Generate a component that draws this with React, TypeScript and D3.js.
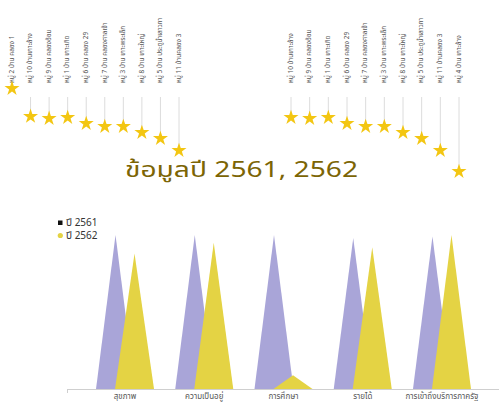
import React from "react";
import * as d3 from "d3";

const leftVillages = [
  "หมู่ 2 บ้าน คลอง 1",
  "หมู่ 10 บ้านเกาะล้าง",
  "หมู่ 9 บ้าน คลองอ้อม",
  "หมู่ 1 บ้าน เกาะเกิด",
  "หมู่ 6 บ้าน คลอง 29",
  "หมู่ 7 บ้าน คลองศาลเจ้า",
  "หมู่ 3 บ้าน เกาะพระเล็ก",
  "หมู่ 8 บ้าน เกาะใหญ่",
  "หมู่ 5 บ้าน ประตูน้ำเสาวภา",
  "หมู่ 11 บ้านคลอง 3",
];
const leftScores = [100, 76.7, 75, 75.8, 70.8, 68.3, 68.3, 63.3, 58.3, 48.3];

const rightVillages = [
  "หมู่ 10 บ้านเกาะล้าง",
  "หมู่ 9 บ้าน คลองอ้อม",
  "หมู่ 1 บ้าน เกาะเกิด",
  "หมู่ 6 บ้าน คลอง 29",
  "หมู่ 7 บ้าน คลองศาลเจ้า",
  "หมู่ 3 บ้าน เกาะพระเล็ก",
  "หมู่ 8 บ้าน เกาะใหญ่",
  "หมู่ 5 บ้าน ประตูน้ำเสาวภา",
  "หมู่ 11 บ้านคลอง 3",
  "หมู่ 4 บ้าน เกาะล้าง",
];
const rightScores = [75.8, 75, 75.8, 70.8, 68.3, 68.3, 63.3, 58.3, 48.3, 30.8];

const categories = ["สุขภาพ", "ความเป็นอยู่", "การศึกษา", "รายได้", "การเข้าถึงบริการภาครัฐ"];
const seriesNames = ["ปี 2561", "ปี 2562"];
const values2561 = [100, 100, 100, 98, 99];
const values2562 = [88, 95, 9, 92, 100];

const title = "ข้อมูลปี 2561, 2562";

const W = 499;
const H = 404;
const FONT = "'Noto Sans', 'Noto Sans Thai', 'DejaVu Sans', sans-serif";
const STAR = "#F3C612";
const LAV = "#A9A5D8";
const YEL = "#E4D344";

function StarGroup({ names, scores, range }: { names: string[]; scores: number[]; range: [number, number] }) {
  const x = d3.scalePoint<string>().domain(names.map((n, i) => i + "")).range(range);
  const y = d3.scaleLinear().domain([0, 100]).range([208, 88]);
  const star = d3.symbol().type(d3.symbolStar).size(70)();
  return (
    <g>
      {names.map((n, i) => {
        const cx = x(i + "")!;
        const cy = y(scores[i]);
        return (
          <g key={i}>
            {cy - 6 > 97 && (
              <line x1={cx} x2={cx} y1={97} y2={cy - 5} stroke="#dcdcdc" strokeWidth={1} />
            )}
            <text
              transform={`translate(${cx},83) rotate(-90)`}
              fontSize={6.5}
              fill="#555"
              dominantBaseline="middle"
              fontFamily={FONT}
            >
              {n}
            </text>
            <path d={star!} transform={`translate(${cx},${cy + 0.5})`} fill={STAR} />
          </g>
        );
      })}
    </g>
  );
}

export default function App() {
  const baseY = 389;
  const x0 = d3.scaleBand<string>().domain(categories).range([85.4, 481.6]);
  const bw = x0.bandwidth();
  const x1 = d3.scalePoint<string>().domain(seriesNames).range([bw / 2 - 9.5, bw / 2 + 9.5]);
  const y = d3.scaleLinear().domain([0, 100]).range([baseY, 235]);
  const half = 19.5;
  const series = [
    { name: seriesNames[0], vals: values2561, color: LAV },
    { name: seriesNames[1], vals: values2562, color: YEL },
  ];
  const tri = (cx: number, v: number) => {
    const p = d3.path();
    p.moveTo(cx - half, baseY);
    p.lineTo(cx, y(v));
    p.lineTo(cx + half, baseY);
    p.closePath();
    return p.toString();
  };
  return (
    <svg
      width={W}
      height={H}
      style={{ position: "absolute", left: 0, top: 0, background: "#fff" }}
      fontFamily={FONT}
    >
      <rect width={W} height={H} fill="#fff" />
      <StarGroup names={leftVillages} scores={leftScores} range={[12, 179]} />
      <StarGroup names={rightVillages} scores={rightScores} range={[291, 459]} />

      <text
        x={125}
        y={177}
        fontSize={22}
        fill="#7C6505"
        fontWeight={400}
        textLength={233}
        lengthAdjust="spacingAndGlyphs"
      >
        {title}
      </text>

      {/* legend */}
      <rect x={58} y={220.5} width={4.5} height={4.5} fill="#111" />
      <text x={66} y={223} fontSize={10} fill="#333" dominantBaseline="middle">{seriesNames[0]}</text>
      <circle cx={60.3} cy={235.5} r={2.6} fill={YEL} />
      <text x={66} y={236} fontSize={10} fill="#333" dominantBaseline="middle">{seriesNames[1]}</text>

      {/* triangles */}
      {series.map((s) => (
        <g key={s.name}>
          {categories.map((c, i) => (
            <path key={c} d={tri(x0(c)! + x1(s.name)!, s.vals[i])} fill={s.color} />
          ))}
        </g>
      ))}

      {/* axis */}
      <line x1={67} x2={W} y1={baseY + 0.5} y2={baseY + 0.5} stroke="#cfcfcf" />
      <line x1={67.5} x2={67.5} y1={baseY} y2={baseY + 4} stroke="#cfcfcf" />
      {categories.map((c) => (
        <text key={c} x={x0(c)! + bw / 2} y={397} textAnchor="middle" fontSize={8} fill="#555" dominantBaseline="middle">
          {c}
        </text>
      ))}
    </svg>
  );
}
